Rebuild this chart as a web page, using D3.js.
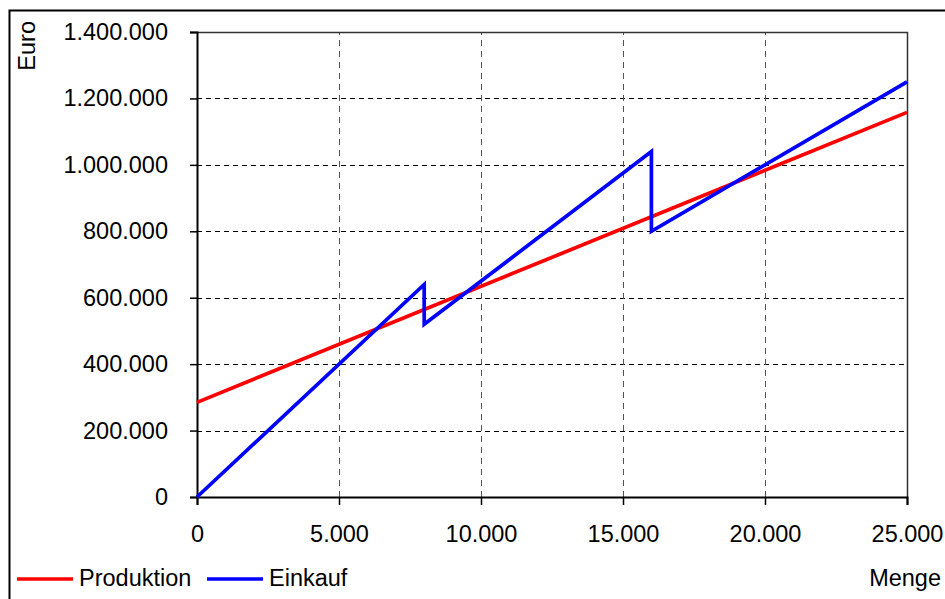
<!DOCTYPE html>
<html>
<head>
<meta charset="utf-8">
<script src="https://cdn.jsdelivr.net/npm/d3@7"></script>
<style>
  body { margin: 0; background: #fff; }
  text { font-family: "Liberation Sans", Arial, sans-serif; fill: #000; }
</style>
</head>
<body>
<div id="chart"></div>
<script>
// Chart size and plot area
const width = 945;
const height = 599;
const margin = { top: 32, right: 38, bottom: 102, left: 197 };
const fontSize = "23.5px";

// Data
const xTicks = [0, 5000, 10000, 15000, 20000, 25000];
const yTicks = [0, 200000, 400000, 600000, 800000, 1000000, 1200000, 1400000];
const produktion = [
  { menge: 0, euro: 285000 },
  { menge: 25000, euro: 1158000 }
];
const einkauf = [
  { menge: 0, euro: 0 },
  { menge: 8000, euro: 640000 },
  { menge: 8000, euro: 520000 },
  { menge: 16000, euro: 1040000 },
  { menge: 16000, euro: 800000 },
  { menge: 25000, euro: 1250000 }
];
const seriesNames = ["Produktion", "Einkauf"];
const seriesColors = ["#ff0000", "#0000ff"];

// German number format with dots as thousands separator
const fmt = d3.formatLocale({ decimal: ",", thousands: ".", grouping: [3], currency: ["", " €"] }).format(",d");

const svg = d3.select("#chart")
  .append("svg")
  .attr("width", width)
  .attr("height", height);

// Outer frame (open on the right and bottom, as in the picture)
svg.append("path")
  .attr("d", `M9.5,${height} V10.5 H${width}`)
  .attr("fill", "none")
  .attr("stroke", "#000")
  .attr("stroke-width", 2);

const x = d3.scaleLinear()
  .domain([0, 25000])
  .range([margin.left, width - margin.right]);

const y = d3.scaleLinear()
  .domain([0, 1400000])
  .range([height - margin.bottom, margin.top]);

// Grid lines
svg.append("g")
  .selectAll("line")
  .data(yTicks.slice(1, -1))
  .enter()
  .append("line")
  .attr("x1", x(0))
  .attr("x2", x(25000))
  .attr("y1", d => Math.round(y(d)) + 0.5)
  .attr("y2", d => Math.round(y(d)) + 0.5)
  .attr("stroke", "#000")
  .attr("stroke-dasharray", "5,4");

svg.append("g")
  .selectAll("line")
  .data(xTicks.slice(1, -1))
  .enter()
  .append("line")
  .attr("x1", d => Math.round(x(d)) + 0.5)
  .attr("x2", d => Math.round(x(d)) + 0.5)
  .attr("y1", y(0))
  .attr("y2", y(1400000))
  .attr("stroke", "#555")
  .attr("stroke-dasharray", "6,5");

// Top and right frame of plot area
svg.append("path")
  .attr("d", `M${x(0)},${y(1400000) + 0.5} H${x(25000) + 0.5} V${y(0)}`)
  .attr("fill", "none")
  .attr("stroke", "#333")
  .attr("stroke-width", 1.5);

// Axes
const xAxis = svg.append("g")
  .attr("transform", `translate(0, ${y(0)})`)
  .call(d3.axisBottom(x).tickValues(xTicks).tickFormat(fmt).tickSize(8).tickPadding(20));

const yAxis = svg.append("g")
  .attr("transform", `translate(${x(0)}, 0)`)
  .call(d3.axisLeft(y).tickValues(yTicks).tickFormat(fmt).tickSize(7).tickPadding(22));

[xAxis, yAxis].forEach(g => {
  g.select(".domain").attr("stroke", "#000").attr("stroke-width", 2);
  g.selectAll(".tick line").attr("stroke", "#000").attr("stroke-width", 1.5);
  g.selectAll(".tick text").style("font-size", fontSize).style("font-family", "Liberation Sans, Arial, sans-serif");
});

// Lines
const line = d3.line()
  .x(d => x(d.menge))
  .y(d => y(d.euro));

[produktion, einkauf].forEach((data, i) => {
  svg.append("path")
    .datum(data)
    .attr("d", line)
    .attr("fill", "none")
    .attr("stroke", seriesColors[i])
    .attr("stroke-width", 3.7)
    .attr("stroke-linejoin", "miter");
});

// Axis labels
svg.append("text")
  .attr("transform", "translate(35, 21) rotate(-90)")
  .style("text-anchor", "end")
  .style("font-size", fontSize)
  .text("Euro");

svg.append("text")
  .attr("x", 941)
  .attr("y", 586)
  .style("text-anchor", "end")
  .style("font-size", fontSize)
  .text("Menge");

// Legend
const legendX = [17, 207];
seriesNames.forEach((name, i) => {
  svg.append("line")
    .attr("x1", legendX[i])
    .attr("x2", legendX[i] + 56)
    .attr("y1", 579)
    .attr("y2", 579)
    .attr("stroke", seriesColors[i])
    .attr("stroke-width", 3.7);
  svg.append("text")
    .attr("x", legendX[i] + 62)
    .attr("y", 586)
    .style("font-size", fontSize)
    .text(name);
});
</script>
</body>
</html>
